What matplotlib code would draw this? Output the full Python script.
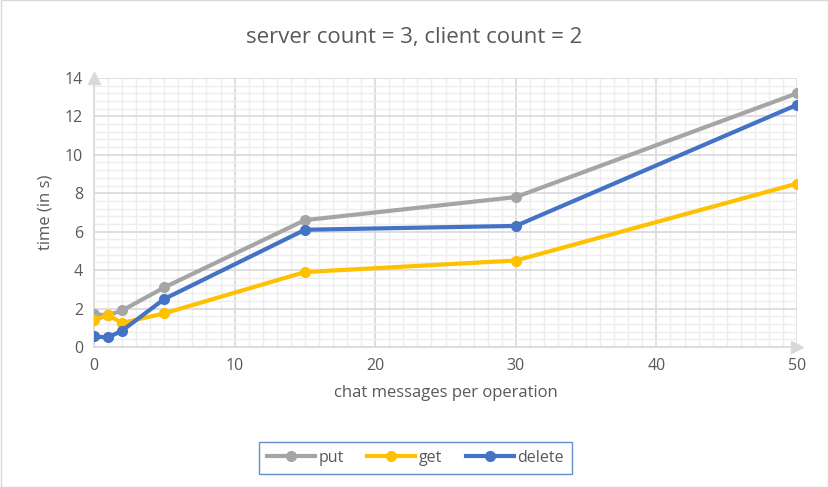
import matplotlib.pyplot as plt
from matplotlib.ticker import MultipleLocator
from matplotlib.patches import Rectangle

plt.rcParams['font.family'] = ['Open Sans', 'DejaVu Sans']

# data
messages = [0, 1, 2, 5, 15, 30, 50]
put_times = [1.7, 1.65, 1.9, 3.1, 6.6, 7.8, 13.2]
get_times = [1.4, 1.65, 1.25, 1.75, 3.9, 4.5, 8.5]
delete_times = [0.55, 0.5, 0.85, 2.5, 6.1, 6.3, 12.6]

text_color = '#595959'

fig = plt.figure(figsize=(8.29, 4.87), dpi=100)
ax = fig.add_axes([0.1134, 0.2875, 0.848, 0.5525])

ax.plot(messages, put_times, color='#A5A5A5', lw=3, marker='o', ms=7, label='put', zorder=3)
ax.plot(messages, get_times, color='#FFC000', lw=3, marker='o', ms=7, label='get', zorder=3)
ax.plot(messages, delete_times, color='#4472C4', lw=3, marker='o', ms=7, label='delete', zorder=4)

ax.set_xlim(0, 50)
ax.set_ylim(0, 14)
ax.xaxis.set_major_locator(MultipleLocator(10))
ax.xaxis.set_minor_locator(MultipleLocator(1))
ax.yaxis.set_major_locator(MultipleLocator(2))
ax.yaxis.set_minor_locator(MultipleLocator(0.4))
ax.grid(which='major', color='#D9D9D9', lw=1.2, zorder=0)
ax.grid(which='minor', color='#EDEDED', lw=1.0, zorder=0)
ax.set_axisbelow(True)
ax.tick_params(which='both', length=0, labelsize=11.5, colors=text_color, pad=8)
for side in ['top', 'right']:
    ax.spines[side].set_visible(False)
for side in ['left', 'bottom']:
    ax.spines[side].set_color('#D9D9D9')
    ax.spines[side].set_linewidth(1.2)

# arrow heads on the axes
ax.plot(0, 14, marker='^', ms=9, color='#D9D9D9', clip_on=False, zorder=2)
ax.plot(50, 0, marker='>', ms=9, color='#D9D9D9', clip_on=False, zorder=2)

ax.set_xlabel('chat messages per operation', fontsize=12, color=text_color, labelpad=8)
ax.set_ylabel('time (in s)', fontsize=12, color=text_color, labelpad=8)
fig.text(0.5, 0.922, 'server count = 3, client count = 2', ha='center', va='center',
         fontsize=16, color=text_color)

leg = fig.legend(loc='center', bbox_to_anchor=(0.501, 0.06), ncol=3, frameon=True,
                 fancybox=False, fontsize=11.5, handlelength=3, handletextpad=0.2,
                 columnspacing=1.5, labelcolor=text_color, borderpad=0.5)
leg.get_frame().set_edgecolor('#4472C4')
leg.get_frame().set_linewidth(1.0)

fig.patches.append(Rectangle((0.001, 0.001), 0.998, 0.998, transform=fig.transFigure,
                             fill=False, edgecolor='#D9D9D9', lw=1))

fig.savefig('out.png', dpi=100)
